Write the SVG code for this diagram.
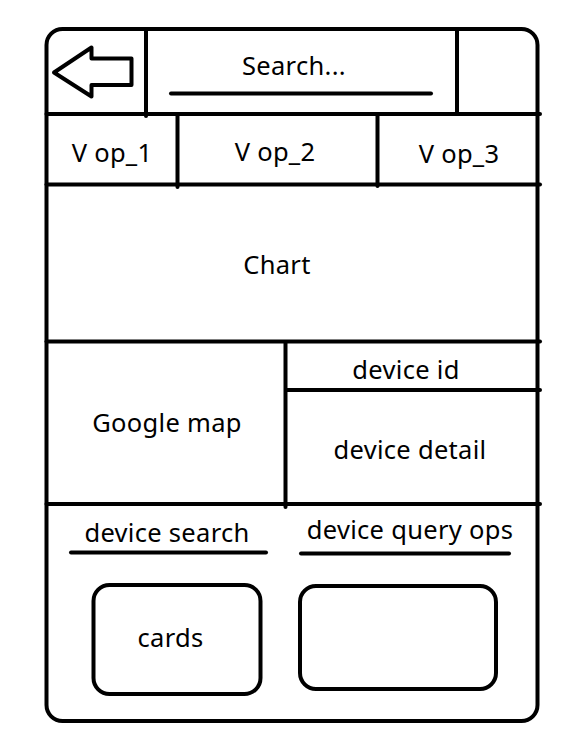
<svg xmlns="http://www.w3.org/2000/svg" width="577" height="751" viewBox="0 0 577 751">
<style>
.ln{stroke:#000;stroke-width:4;fill:none;stroke-linecap:round;stroke-linejoin:round}
.t{font-family:"Noto Sans","Open Sans",sans-serif;font-size:25.5px;letter-spacing:0.3px;fill:#000;text-anchor:middle}
</style>
<rect width="577" height="751" fill="#fff"/>
<g id="frame">
<rect class="ln" x="46.5" y="29" width="491" height="692" rx="16"/>
</g>
<g id="connectors">
<line class="ln" x1="46.5" y1="114" x2="540" y2="114"/>
<line class="ln" x1="146" y1="29" x2="146" y2="116"/>
<line class="ln" x1="457" y1="29" x2="457" y2="114"/>
<line class="ln" x1="46.5" y1="184.5" x2="540" y2="184.5"/>
<line class="ln" x1="177.5" y1="114" x2="177.5" y2="187"/>
<line class="ln" x1="377.5" y1="114" x2="377.5" y2="186"/>
<line class="ln" x1="46.5" y1="341.5" x2="540" y2="341.5"/>
<line class="ln" x1="285.5" y1="343" x2="285.5" y2="507"/>
<line class="ln" x1="286" y1="390" x2="540" y2="390"/>
<line class="ln" x1="46.5" y1="504" x2="540" y2="504"/>
</g>
<g id="back">
<polygon class="ln" points="54,72.5 91.5,47.5 91.5,58.5 131.5,58.5 131.5,85 91.5,85 91.5,96.5"/>
</g>
<g id="search">
<text class="t" x="294" y="75">Search...</text>
<line class="ln" x1="171" y1="93.5" x2="431" y2="93.5"/>
</g>
<g id="vop1"><text class="t" x="112" y="162">V op_1</text></g>
<g id="vop2"><text class="t" x="275" y="161">V op_2</text></g>
<g id="vop3"><text class="t" x="459" y="162.5">V op_3</text></g>
<g id="chart"><text class="t" x="277" y="274">Chart</text></g>
<g id="map"><text class="t" x="167" y="432">Google map</text></g>
<g id="deviceid"><text class="t" x="406" y="379">device id</text></g>
<g id="devicedetail"><text class="t" x="410" y="459">device detail</text></g>
<g id="devicesearch">
<text class="t" x="167" y="541.5">device search</text>
<line class="ln" x1="71" y1="552.5" x2="266" y2="552.5"/>
</g>
<g id="devicequery">
<text class="t" x="410" y="539">device query ops</text>
<line class="ln" x1="301" y1="553.5" x2="509" y2="553.5"/>
</g>
<g id="cards">
<rect class="ln" x="93.5" y="585" width="167" height="109" rx="16"/>
<text class="t" x="170.5" y="647">cards</text>
</g>
<g id="emptybox">
<rect class="ln" x="300" y="586" width="196" height="103" rx="16"/>
</g>
</svg>
